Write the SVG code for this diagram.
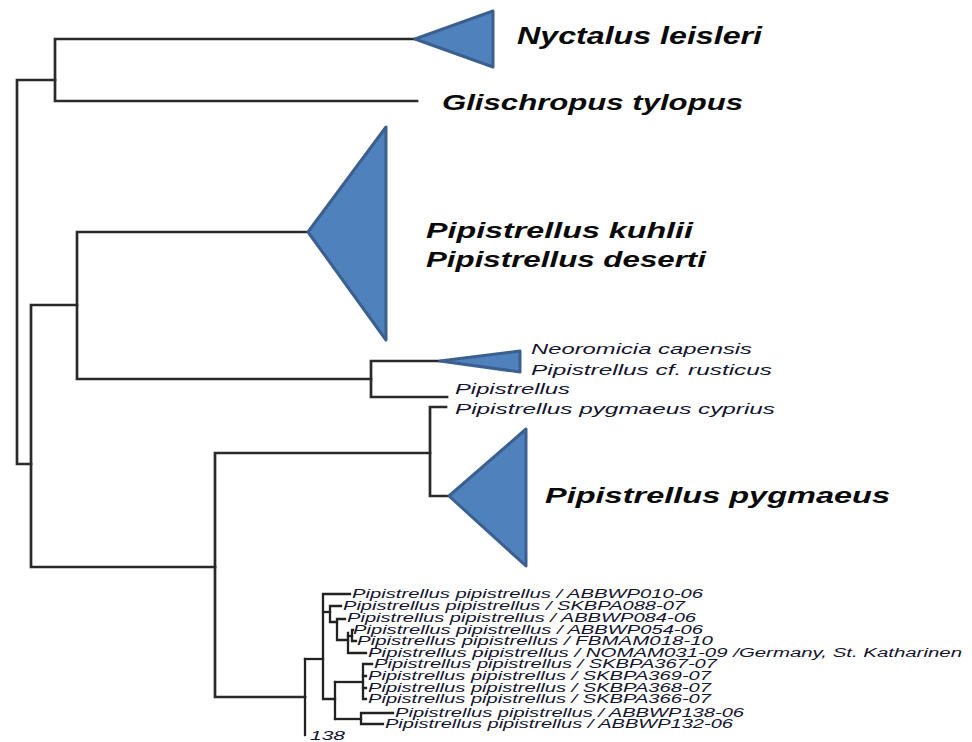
<svg xmlns="http://www.w3.org/2000/svg" width="972" height="742" viewBox="0 0 972 742">
  <style>
    .br { fill: none; stroke: #2a2a2a; stroke-width: 2.7; stroke-linecap: square; stroke-linejoin: miter; }
    .brs { fill: none; stroke: #222222; stroke-width: 2.3; stroke-linecap: square; }
    .clade { fill: #4f81bd; stroke: #3b6090; stroke-width: 3; stroke-linejoin: round; }
    .big { font-family: "Liberation Sans", Arial, sans-serif; font-style: italic; font-weight: bold; fill: #0a0a0a; }
    .mid { font-family: "Liberation Sans", Arial, sans-serif; font-style: italic; font-size: 15px; fill: #14142e; }
    .sm { font-family: "Liberation Sans", Arial, sans-serif; font-style: italic; font-size: 12px; fill: #14142e; }
  </style>
  <rect width="972" height="742" fill="#ffffff"/>

  <!-- tree branches -->
  <g id="connectors">
    <!-- root and upper pair -->
    <path class="br" d="M55,80 H17 V464 H31"/>
    <path class="br" d="M415,39 H55 V101 H417"/>
    <!-- second major clade -->
    <path class="br" d="M77,305 H31 V567 H215"/>
    <path class="br" d="M308,232 H77 V379 H371"/>
    <path class="br" d="M440,361 H371 V397 H447"/>
    <!-- pygmaeus / pipistrellus clade -->
    <path class="br" d="M430,453 H215 V697 H305"/>
    <path class="br" d="M446,407 H430 V496 H449"/>
    <!-- pipistrellus subtree -->
    <path class="brs" d="M305,659 V735"/>
    <path class="brs" d="M305,659 H323"/>
    <path class="brs" d="M350,594 H323 V699 H335"/>
    <path class="brs" d="M323,612 H330"/>
    <path class="brs" d="M341,606 H330 V622 H337"/>
    <path class="brs" d="M345,619 H337 V640 H348"/>
    <path class="brs" d="M348,633 V653 H366"/>
    <path class="brs" d="M348,636 H352"/>
    <path class="brs" d="M353,630 H352 V641 H356"/>
    <path class="brs" d="M335,682 V719"/>
    <path class="brs" d="M335,682 H363"/>
    <path class="brs" d="M372,664 H363 V699 H366"/>
    <path class="brs" d="M363,676 H366 M363,688 H366"/>
    <path class="brs" d="M335,719 H361"/>
    <path class="brs" d="M393,713 H361 V724 H383"/>
  </g>

  <g id="nyctalus-leisleri">
    <polygon class="clade" points="415,39 493,11 493,67"/>
    <text class="big" x="517" y="44" font-size="24" textLength="245" lengthAdjust="spacingAndGlyphs">Nyctalus leisleri</text>
  </g>

  <g id="glischropus-tylopus">
    <text class="big" x="442" y="110" font-size="22" textLength="301" lengthAdjust="spacingAndGlyphs">Glischropus tylopus</text>
  </g>

  <g id="kuhlii-deserti">
    <polygon class="clade" points="308,232 386,127 386,340"/>
    <text class="big" x="426" y="238" font-size="22" textLength="267" lengthAdjust="spacingAndGlyphs">Pipistrellus kuhlii</text>
    <text class="big" x="426" y="267" font-size="22" textLength="280" lengthAdjust="spacingAndGlyphs">Pipistrellus deserti</text>
  </g>

  <g id="neoromicia-rusticus">
    <polygon class="clade" points="440,361 520,351 520,372"/>
    <text class="mid" x="531" y="354" textLength="221" lengthAdjust="spacingAndGlyphs">Neoromicia capensis</text>
    <text class="mid" x="531" y="375" textLength="241" lengthAdjust="spacingAndGlyphs">Pipistrellus cf. rusticus</text>
  </g>

  <g id="pipistrellus">
    <text class="mid" x="455" y="394" textLength="115" lengthAdjust="spacingAndGlyphs">Pipistrellus</text>
  </g>

  <g id="pygmaeus-cyprius">
    <text class="mid" x="455" y="414" textLength="320" lengthAdjust="spacingAndGlyphs">Pipistrellus pygmaeus cyprius</text>
  </g>

  <g id="pipistrellus-pygmaeus">
    <polygon class="clade" points="449,496 526,429 526,566"/>
    <text class="big" x="545" y="503" font-size="22" textLength="345" lengthAdjust="spacingAndGlyphs">Pipistrellus pygmaeus</text>
  </g>

  <g id="pipistrellus-pipistrellus">
    <text class="sm" x="352" y="598" textLength="351" lengthAdjust="spacingAndGlyphs">Pipistrellus pipistrellus / ABBWP010-06</text>
    <text class="sm" x="343" y="610" textLength="342" lengthAdjust="spacingAndGlyphs">Pipistrellus pipistrellus / SKBPA088-07</text>
    <text class="sm" x="347" y="622" textLength="349" lengthAdjust="spacingAndGlyphs">Pipistrellus pipistrellus / ABBWP084-06</text>
    <text class="sm" x="353" y="634" textLength="350" lengthAdjust="spacingAndGlyphs">Pipistrellus pipistrellus / ABBWP054-06</text>
    <text class="sm" x="357" y="645" textLength="356" lengthAdjust="spacingAndGlyphs">Pipistrellus pipistrellus / FBMAM018-10</text>
    <text class="sm" x="368" y="657" textLength="594" lengthAdjust="spacingAndGlyphs">Pipistrellus pipistrellus / NOMAM031-09 /Germany, St. Katharinen</text>
    <text class="sm" x="374" y="668" textLength="343" lengthAdjust="spacingAndGlyphs">Pipistrellus pipistrellus / SKBPA367-07</text>
    <text class="sm" x="368" y="680" textLength="343" lengthAdjust="spacingAndGlyphs">Pipistrellus pipistrellus / SKBPA369-07</text>
    <text class="sm" x="368" y="692" textLength="343" lengthAdjust="spacingAndGlyphs">Pipistrellus pipistrellus / SKBPA368-07</text>
    <text class="sm" x="368" y="703" textLength="343" lengthAdjust="spacingAndGlyphs">Pipistrellus pipistrellus / SKBPA366-07</text>
    <text class="sm" x="395" y="717" textLength="349" lengthAdjust="spacingAndGlyphs">Pipistrellus pipistrellus / ABBWP138-06</text>
    <text class="sm" x="385" y="728" textLength="348" lengthAdjust="spacingAndGlyphs">Pipistrellus pipistrellus / ABBWP132-06</text>
    <text class="sm" x="310" y="740" textLength="35" lengthAdjust="spacingAndGlyphs">138</text>
  </g>
</svg>
